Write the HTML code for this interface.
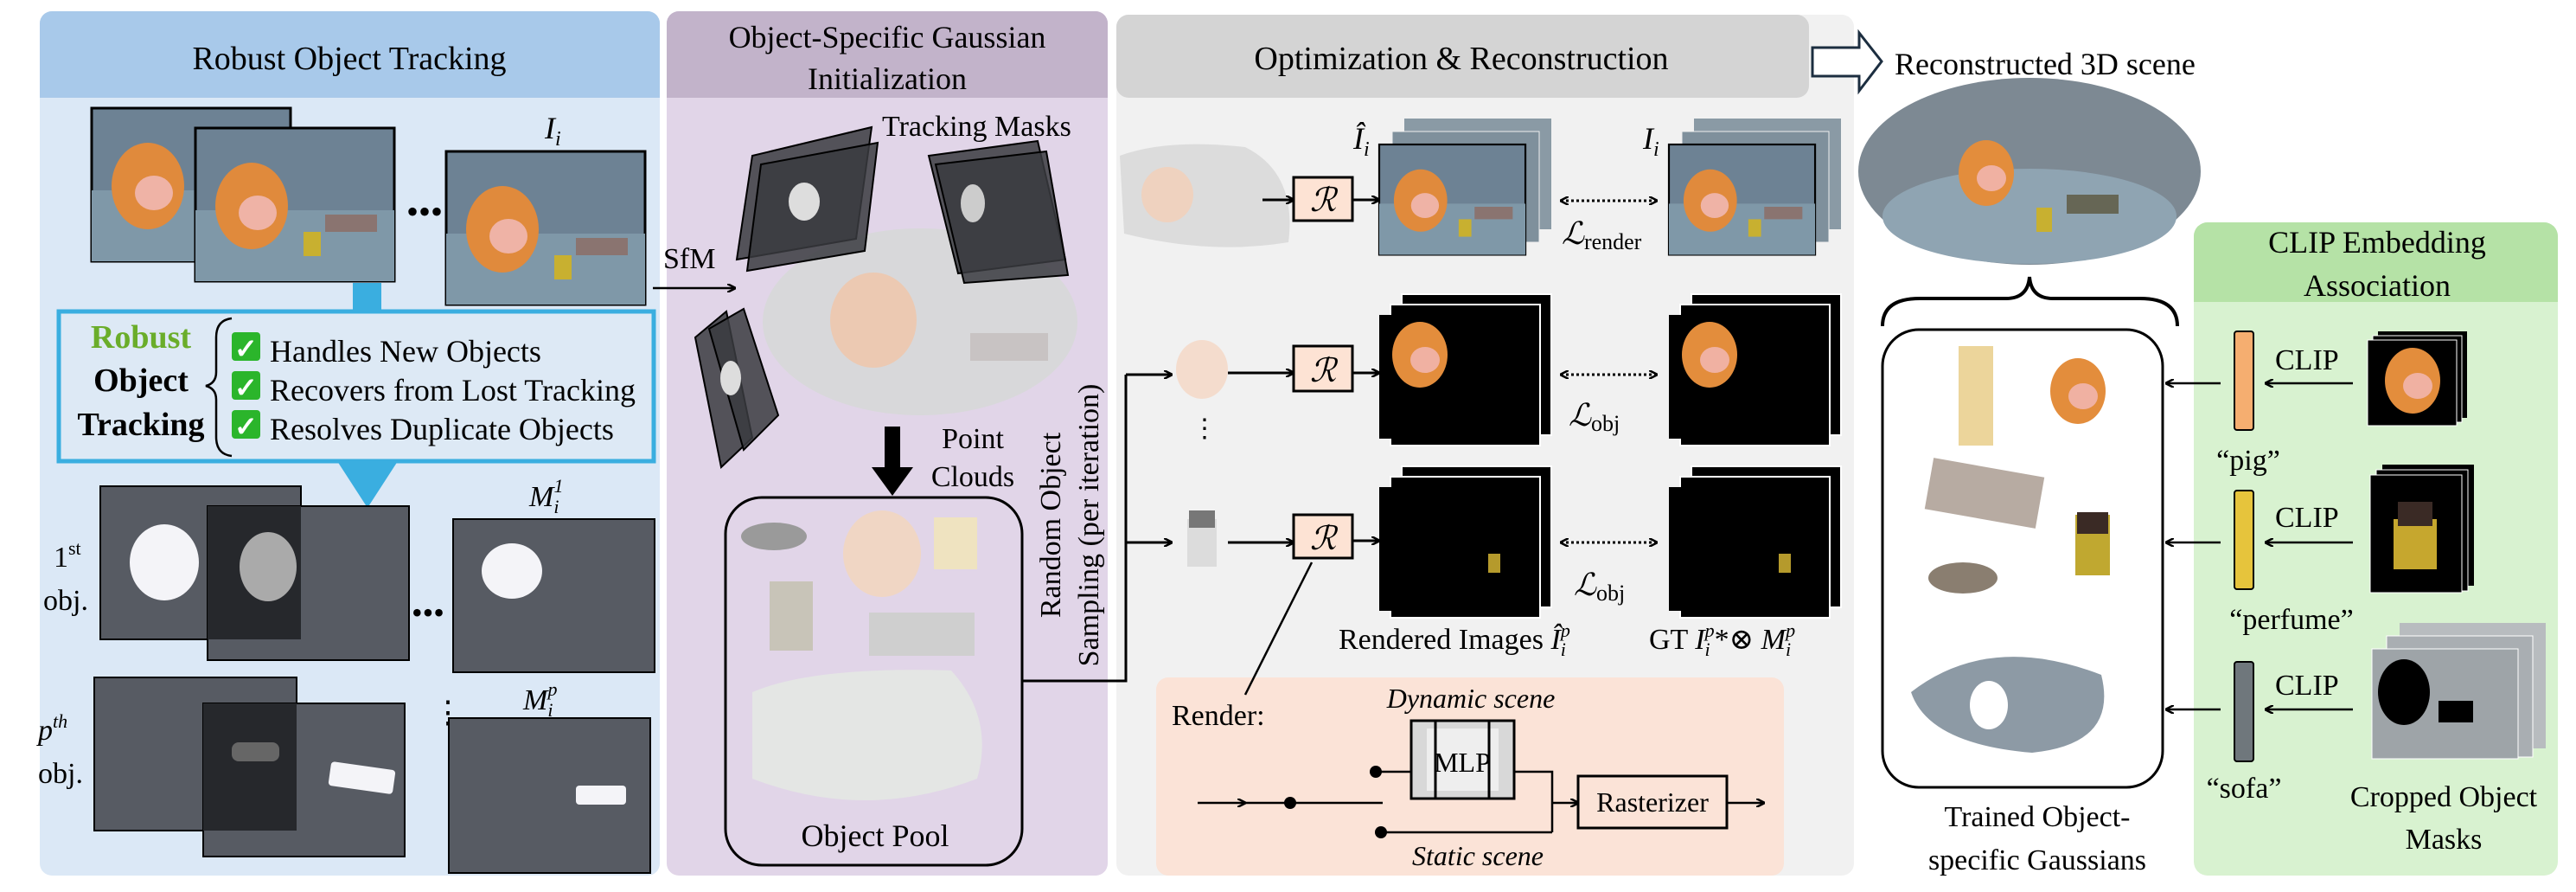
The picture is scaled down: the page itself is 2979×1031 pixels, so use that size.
<!DOCTYPE html>
<html><head><meta charset="utf-8"><style>
html,body{margin:0;padding:0;background:#fff;}
svg{display:block;font-family:"Liberation Serif","DejaVu Serif",serif;}
svg text{font-family:"Liberation Serif","DejaVu Serif",serif;fill:#000;}
</style></head><body>
<svg width="2979" height="1031" viewBox="0 0 2979 1031" xmlns="http://www.w3.org/2000/svg" font-family="Liberation Serif, DejaVu Serif, serif">
<defs>
<marker id="ah" markerWidth="10" markerHeight="10" refX="9" refY="5" orient="auto" markerUnits="userSpaceOnUse"><path d="M0,0 L10,5 L0,10" fill="none" stroke="#000" stroke-width="2.5"/></marker>
<marker id="ahs" markerWidth="10" markerHeight="10" refX="1" refY="5" orient="auto" markerUnits="userSpaceOnUse"><path d="M10,0 L0,5 L10,10" fill="none" stroke="#000" stroke-width="2.5"/></marker>
<g id="photo"><rect width="230" height="177" fill="#6d8294" stroke="#000" stroke-width="3"/><rect y="95" width="230" height="82" fill="#7f98a8"/><ellipse cx="65" cy="90" rx="42" ry="50" fill="#e08a3c"/><ellipse cx="72" cy="98" rx="22" ry="20" fill="#efb3a6"/><rect x="150" y="100" width="60" height="20" fill="#8a7470"/><rect x="125" y="120" width="20" height="28" fill="#c8b030"/></g>
<g id="pig"><ellipse cx="0" cy="0" rx="32" ry="38" fill="#e38d3c"/><ellipse cx="6" cy="6" rx="17" ry="15" fill="#f0b1a2"/></g>
</defs>

<!-- Blue panel -->
<rect x="46" y="13" width="717" height="999" rx="14" fill="#dbe8f6"/>
<path d="M46,113 V27 a14,14 0 0 1 14,-14 H749 a14,14 0 0 1 14,14 V113 Z" fill="#a8c9ea"/>
<text x="404" y="80" font-size="38" text-anchor="middle">Robust Object Tracking</text>
<use href="#photo" x="106" y="125"/>
<g transform="translate(226,148)"><use href="#photo"/></g>
<text x="470" y="258" font-size="40">•••</text>
<g transform="translate(516,175)"><use href="#photo"/></g>
<text x="630" y="160" font-size="36" font-style="italic">I<tspan font-size="24" dy="8">i</tspan></text>
<rect x="408" y="327" width="33" height="33" fill="#3aaee0"/>
<rect x="68" y="360" width="688" height="173" fill="#dde9f5" stroke="#3aaee0" stroke-width="5"/>
<text x="163" y="402" font-size="38" font-weight="bold" text-anchor="middle" style="fill:#6aad2a">Robust</text>
<text x="163" y="452" font-size="38" font-weight="bold" text-anchor="middle">Object</text>
<text x="163" y="503" font-size="38" font-weight="bold" text-anchor="middle">Tracking</text>
<path d="M268,368 Q250,370 250,390 V430 Q250,443 238,446 Q250,449 250,462 V505 Q250,525 268,527" fill="none" stroke="#000" stroke-width="2.5"/>
<g font-size="36">
<rect x="268" y="384" width="33" height="33" rx="4" fill="#2bb52b"/><text x="271" y="414" font-size="32" style="fill:#fff" font-weight="bold">✓</text>
<text x="312" y="418">Handles New Objects</text>
<rect x="268" y="429" width="33" height="33" rx="4" fill="#2bb52b"/><text x="271" y="459" font-size="32" style="fill:#fff" font-weight="bold">✓</text>
<text x="312" y="463">Recovers from Lost Tracking</text>
<rect x="268" y="474" width="33" height="33" rx="4" fill="#2bb52b"/><text x="271" y="504" font-size="32" style="fill:#fff" font-weight="bold">✓</text>
<text x="312" y="508">Resolves Duplicate Objects</text>
</g>
<polygon points="390,533 460,533 425,587" fill="#3aaee0"/>
<!-- masks row 1 -->
<rect x="116" y="562" width="232" height="177" fill="#575b63" stroke="#000" stroke-width="2"/>
<rect x="240" y="585" width="233" height="178" fill="#575b63" stroke="#000" stroke-width="2"/>
<rect x="240" y="585" width="108" height="154" fill="#26282c"/>
<ellipse cx="190" cy="650" rx="40" ry="44" fill="#f4f4f8"/>
<ellipse cx="310" cy="655" rx="33" ry="40" fill="#aaa"/>
<text x="476" y="720" font-size="36">•••</text>
<rect x="524" y="600" width="233" height="177" fill="#575b63" stroke="#000" stroke-width="2"/>
<ellipse cx="592" cy="660" rx="35" ry="32" fill="#f4f4f8"/>
<text x="612" y="585" font-size="34" font-style="italic">M<tspan font-size="22" dy="8">i</tspan><tspan font-size="22" dy="-24" dx="-6">1</tspan></text>
<text x="62" y="655" font-size="34">1<tspan font-size="22" dy="-14">st</tspan></text>
<text x="50" y="705" font-size="34">obj.</text>
<!-- masks row p -->
<rect x="109" y="783" width="234" height="177" fill="#575b63" stroke="#000" stroke-width="2"/>
<rect x="235" y="813" width="233" height="177" fill="#575b63" stroke="#000" stroke-width="2"/>
<rect x="235" y="813" width="108" height="147" fill="#26282c"/>
<rect x="268" y="858" width="55" height="22" rx="8" fill="#666"/>
<rect x="381" y="885" width="75" height="28" rx="4" fill="#f4f4f8" transform="rotate(8 418 899)"/>
<text x="500" y="835" font-size="36">⋮</text>
<rect x="519" y="830" width="233" height="179" fill="#575b63" stroke="#000" stroke-width="2"/>
<rect x="666" y="908" width="58" height="22" rx="4" fill="#f4f4f8"/>
<text x="605" y="820" font-size="34" font-style="italic">M<tspan font-size="22" dy="8">i</tspan><tspan font-size="22" dy="-24" dx="-6">p</tspan></text>
<text x="44" y="855" font-size="34" font-style="italic">p<tspan font-size="22" dy="-14">th</tspan></text>
<text x="44" y="905" font-size="34">obj.</text>

<!-- Purple panel -->
<rect x="771" y="13" width="510" height="999" rx="14" fill="#e1d5e8"/>
<path d="M771,113 V27 a14,14 0 0 1 14,-14 H1267 a14,14 0 0 1 14,14 V113 Z" fill="#c2b3ca"/>
<text x="1026" y="55" font-size="36" text-anchor="middle">Object-Specific Gaussian</text>
<text x="1026" y="103" font-size="36" text-anchor="middle">Initialization</text>
<text x="1020" y="157" font-size="34">Tracking Masks</text>
<text x="767" y="310" font-size="34">SfM</text>
<line x1="755" y1="333" x2="850" y2="333" stroke="#000" stroke-width="2.5" marker-end="url(#ah)"/>
<ellipse cx="1064" cy="372" rx="182" ry="108" fill="#d8d8da"/>
<ellipse cx="1010" cy="370" rx="50" ry="55" fill="#ecc9b2"/>
<rect x="1122" y="385" width="90" height="32" fill="#c8c3c3"/>
<g fill="#3a3b40" fill-opacity="0.85" stroke="#000" stroke-width="2">
<polygon points="870,180 1008,147 990,276 852,300"/><polygon points="880,190 1015,165 1000,290 864,313"/>
<polygon points="1074,180 1200,163 1232,300 1108,316"/><polygon points="1082,190 1210,175 1235,318 1115,327"/>
<polygon points="804,390 840,360 870,506 834,540"/><polygon points="820,380 860,357 900,480 860,520"/>
</g>
<ellipse cx="930" cy="233" rx="18" ry="22" fill="#ddd"/>
<ellipse cx="1125" cy="235" rx="14" ry="22" fill="#ccc"/>
<ellipse cx="845" cy="437" rx="12" ry="20" fill="#ddd"/>
<rect x="1023" y="493" width="18" height="50" fill="#000"/><polygon points="1008,540 1056,540 1032,573" fill="#000"/>
<text x="1125" y="518" font-size="34" text-anchor="middle">Point</text>
<text x="1125" y="562" font-size="34" text-anchor="middle">Clouds</text>
<rect x="839" y="575" width="343" height="425" rx="42" fill="none" stroke="#000" stroke-width="3"/>
<ellipse cx="895" cy="620" rx="38" ry="16" fill="#9a9a9a"/>
<ellipse cx="1020" cy="640" rx="45" ry="50" fill="#f0d6c4"/>
<rect x="1080" y="598" width="50" height="60" fill="#efe3c0"/>
<rect x="890" y="672" width="50" height="80" fill="#c8c4b8"/>
<rect x="1005" y="708" width="122" height="50" fill="#cfcfcf"/>
<path d="M870,800 Q940,770 1100,775 Q1150,830 1130,900 Q1000,950 870,900 Z" fill="#e4e6e4"/>
<text x="1012" y="978" font-size="36" text-anchor="middle">Object Pool</text>
<text transform="translate(1226,607) rotate(-90)" font-size="34" text-anchor="middle">Random Object</text>
<text transform="translate(1270,607) rotate(-90)" font-size="34" text-anchor="middle">Sampling (per iteration)</text>

<!-- Gray panel -->
<rect x="1291" y="17" width="853" height="995" rx="14" fill="#f1f1f1"/>
<rect x="1291" y="17" width="801" height="96" rx="14" fill="#d4d4d4"/>
<text x="1690" y="80" font-size="38" text-anchor="middle">Optimization &amp; Reconstruction</text>
<polyline points="1182,787 1302,787 1302,433" fill="none" stroke="#000" stroke-width="3"/>
<line x1="1302" y1="433" x2="1355" y2="433" stroke="#000" stroke-width="3" marker-end="url(#ah)"/>
<line x1="1302" y1="627" x2="1355" y2="627" stroke="#000" stroke-width="3" marker-end="url(#ah)"/>
<!-- row 1 -->
<path d="M1295,180 Q1350,160 1440,170 Q1500,200 1490,280 Q1400,295 1300,270 Z" fill="#dcdcdc"/>
<ellipse cx="1350" cy="225" rx="30" ry="32" fill="#efd2bf"/>
<line x1="1460" y1="231" x2="1496" y2="231" stroke="#000" stroke-width="3" marker-end="url(#ah)"/>
<rect x="1496" y="205" width="68" height="50" fill="#fde3d4" stroke="#000" stroke-width="3"/><text x="1530" y="244" font-size="38" font-style="italic" text-anchor="middle">ℛ</text>
<line x1="1564" y1="231" x2="1595" y2="231" stroke="#000" stroke-width="3" marker-end="url(#ah)"/>
<g id="stk1">
<rect x="1624" y="137" width="170" height="128" fill="#8a9aa5"/>
<rect x="1610" y="152" width="170" height="128" fill="#7f909c" stroke="#eee" stroke-width="1"/>
<g transform="translate(1595,167) scale(0.735,0.72)"><use href="#photo"/></g>
</g>
<g transform="translate(335,0)"><use href="#stk1"/></g>
<text x="1565" y="172" font-size="36" font-style="italic">Î<tspan font-size="24" dy="8">i</tspan></text>
<text x="1900" y="172" font-size="36" font-style="italic">I<tspan font-size="24" dy="8">i</tspan></text>
<line x1="1805" y1="232" x2="1916" y2="232" stroke="#000" stroke-width="3" stroke-dasharray="3,3" marker-end="url(#ah)" marker-start="url(#ahs)"/>
<text x="1806" y="282" font-size="36" font-style="italic">ℒ<tspan font-style="normal" font-size="26" dy="6">render</tspan></text>
<!-- row 2 -->
<ellipse cx="1390" cy="427" rx="30" ry="34" fill="#f4dccd"/>
<line x1="1420" y1="431" x2="1496" y2="431" stroke="#000" stroke-width="3" marker-end="url(#ah)"/>
<rect x="1496" y="400" width="68" height="52" fill="#fde3d4" stroke="#000" stroke-width="3"/><text x="1530" y="441" font-size="38" font-style="italic" text-anchor="middle">ℛ</text>
<line x1="1564" y1="431" x2="1595" y2="431" stroke="#000" stroke-width="3" marker-end="url(#ah)"/>
<g id="blk">
<rect x="1621" y="340" width="173" height="163" fill="#000" stroke="#fff" stroke-width="2"/>
<rect x="1608" y="352" width="173" height="163" fill="#000" stroke="#fff" stroke-width="2"/>
<rect x="1595" y="364" width="173" height="143" fill="#000"/>
</g>
<g transform="translate(335,0)"><use href="#blk"/></g>
<use href="#pig" x="1642" y="410"/><use href="#pig" x="1977" y="410"/>
<line x1="1805" y1="433" x2="1916" y2="433" stroke="#000" stroke-width="3" stroke-dasharray="3,3" marker-end="url(#ah)" marker-start="url(#ahs)"/>
<text x="1814" y="492" font-size="36" font-style="italic">ℒ<tspan font-style="normal" font-size="26" dy="6">obj</tspan></text>
<text x="1393" y="505" font-size="30" text-anchor="middle">⋮</text>
<!-- row 3 -->
<rect x="1373" y="600" width="34" height="55" fill="#dcdcdc"/><rect x="1375" y="590" width="30" height="20" fill="#777"/>
<line x1="1420" y1="627" x2="1496" y2="627" stroke="#000" stroke-width="3" marker-end="url(#ah)"/>
<rect x="1496" y="595" width="68" height="50" fill="#fde3d4" stroke="#000" stroke-width="3"/><text x="1530" y="635" font-size="38" font-style="italic" text-anchor="middle">ℛ</text>
<line x1="1564" y1="625" x2="1595" y2="625" stroke="#000" stroke-width="3" marker-end="url(#ah)"/>
<g transform="translate(0,199)"><use href="#blk"/></g>
<g transform="translate(335,199)"><use href="#blk"/></g>
<rect x="1721" y="640" width="14" height="22" fill="#b59a2c"/><rect x="2057" y="640" width="14" height="22" fill="#b59a2c"/>
<line x1="1805" y1="627" x2="1916" y2="627" stroke="#000" stroke-width="3" stroke-dasharray="3,3" marker-end="url(#ah)" marker-start="url(#ahs)"/>
<text x="1820" y="688" font-size="36" font-style="italic">ℒ<tspan font-style="normal" font-size="26" dy="6">obj</tspan></text>
<text x="1548" y="750" font-size="34">Rendered Images <tspan font-style="italic">Î</tspan><tspan font-style="italic" font-size="22" dy="8">i</tspan><tspan font-style="italic" font-size="22" dy="-22" dx="-6">p</tspan></text>
<text x="1907" y="750" font-size="34">GT  <tspan font-style="italic">I</tspan><tspan font-style="italic" font-size="22" dy="8">i</tspan><tspan font-style="italic" font-size="22" dy="-22" dx="-6">p</tspan><tspan dy="14">*⊗ </tspan><tspan font-style="italic">M</tspan><tspan font-style="italic" font-size="22" dy="8">i</tspan><tspan font-style="italic" font-size="22" dy="-22" dx="-6">p</tspan></text>
<!-- Render box -->
<rect x="1337" y="783" width="726" height="229" rx="14" fill="#fbe3d7"/>
<line x1="1517" y1="650" x2="1440" y2="803" stroke="#000" stroke-width="2.5"/>
<text x="1355" y="838" font-size="34">Render:</text>
<text x="1701" y="818" font-size="32" font-style="italic" text-anchor="middle">Dynamic scene</text>
<text x="1709" y="1000" font-size="32" font-style="italic" text-anchor="middle">Static scene</text>
<rect x="1632" y="833" width="119" height="90" fill="#d8d8d8" stroke="#000" stroke-width="3"/>
<rect x="1650" y="842" width="83" height="72" fill="#eee"/>
<line x1="1660" y1="833" x2="1660" y2="923" stroke="#000" stroke-width="3"/>
<line x1="1722" y1="833" x2="1722" y2="923" stroke="#000" stroke-width="3"/>
<text x="1691" y="892" font-size="32" text-anchor="middle">MLP</text>
<rect x="1825" y="897" width="172" height="60" fill="#fbe3d7" stroke="#000" stroke-width="3"/>
<text x="1911" y="938" font-size="32" text-anchor="middle">Rasterizer</text>
<line x1="1385" y1="928" x2="1440" y2="928" stroke="#000" stroke-width="2.5" marker-end="url(#ah)"/>
<line x1="1440" y1="928" x2="1599" y2="928" stroke="#000" stroke-width="2.5"/>
<circle cx="1492" cy="928" r="7" fill="#000"/>
<circle cx="1591" cy="892" r="7" fill="#000"/><line x1="1591" y1="892" x2="1632" y2="892" stroke="#000" stroke-width="2.5"/>
<circle cx="1597" cy="962" r="7" fill="#000"/><line x1="1597" y1="962" x2="1795" y2="962" stroke="#000" stroke-width="2.5"/>
<polyline points="1751,892 1795,892 1795,962" fill="none" stroke="#000" stroke-width="2.5"/>
<line x1="1795" y1="928" x2="1825" y2="928" stroke="#000" stroke-width="2.5" marker-end="url(#ah)"/>
<line x1="1997" y1="928" x2="2040" y2="928" stroke="#000" stroke-width="2.5" marker-end="url(#ah)"/>

<!-- right -->
<polygon points="2096,55 2150,55 2150,38 2176,71 2150,105 2150,88 2096,88" fill="#fff" stroke="#1c2e40" stroke-width="3"/>
<text x="2191" y="86" font-size="36">Reconstructed 3D scene</text>
<ellipse cx="2347" cy="198" rx="198" ry="108" fill="#7d8993"/>
<ellipse cx="2347" cy="250" rx="170" ry="55" fill="#8fa4b2"/>
<use href="#pig" x="2297" y="200"/>
<rect x="2390" y="225" width="60" height="22" fill="#665"/><rect x="2355" y="240" width="18" height="28" fill="#c8b030"/>
<path d="M2177,377 Q2177,345 2220,345 H2320 Q2345,345 2347,320 Q2349,345 2374,345 H2475 Q2518,345 2518,377" fill="none" stroke="#000" stroke-width="4"/>
<rect x="2177" y="381" width="324" height="529" rx="42" fill="#fff" stroke="#000" stroke-width="3"/>
<rect x="2265" y="400" width="40" height="115" fill="#ecd59b"/>
<use href="#pig" x="2403" y="452"/>
<rect x="2230" y="540" width="130" height="60" fill="#b7aba2" transform="rotate(10 2295 570)"/>
<rect x="2400" y="595" width="40" height="70" fill="#c0a830"/><rect x="2402" y="592" width="36" height="25" fill="#3a2a25"/>
<ellipse cx="2270" cy="668" rx="40" ry="18" fill="#8a7e70"/>
<path d="M2210,800 Q2300,730 2430,780 Q2450,860 2350,870 Q2230,860 2210,800 Z" fill="#8d9aa5"/>
<ellipse cx="2300" cy="815" rx="22" ry="28" fill="#fff"/>
<text x="2356" y="955" font-size="34" text-anchor="middle">Trained Object-</text>
<text x="2356" y="1005" font-size="34" text-anchor="middle">specific Gaussians</text>
<!-- green -->
<rect x="2537" y="257" width="421" height="755" rx="16" fill="#d8f2d0"/>
<path d="M2537,349 V273 a16,16 0 0 1 16,-16 H2942 a16,16 0 0 1 16,16 V349 Z" fill="#b5e2a6"/>
<text x="2749" y="292" font-size="36" text-anchor="middle">CLIP Embedding</text>
<text x="2749" y="342" font-size="36" text-anchor="middle">Association</text>
<rect x="2584" y="383" width="22" height="114" rx="3" fill="#f5ae70" stroke="#000" stroke-width="2"/>
<rect x="2584" y="567" width="22" height="114" rx="3" fill="#e6c43c" stroke="#000" stroke-width="2"/>
<rect x="2584" y="765" width="22" height="115" rx="3" fill="#6f777c" stroke="#000" stroke-width="2"/>
<g font-size="34">
<text x="2631" y="427">CLIP</text><text x="2631" y="609">CLIP</text><text x="2631" y="803">CLIP</text>
<text x="2600" y="543" text-anchor="middle">“pig”</text>
<text x="2650" y="727" text-anchor="middle">“perfume”</text>
<text x="2595" y="922" text-anchor="middle">“sofa”</text>
<text x="2826" y="932" text-anchor="middle">Cropped Object</text>
<text x="2826" y="981" text-anchor="middle">Masks</text>
</g>
<g stroke="#000" stroke-width="2.5">
<line x1="2721" y1="443" x2="2620" y2="443" marker-end="url(#ah)"/>
<line x1="2721" y1="627" x2="2620" y2="627" marker-end="url(#ah)"/>
<line x1="2721" y1="820" x2="2620" y2="820" marker-end="url(#ah)"/>
<line x1="2568" y1="443" x2="2505" y2="443" marker-end="url(#ah)"/>
<line x1="2568" y1="627" x2="2505" y2="627" marker-end="url(#ah)"/>
<line x1="2568" y1="820" x2="2505" y2="820" marker-end="url(#ah)"/>
</g>
<rect x="2750" y="383" width="103" height="100" fill="#000"/><rect x="2744" y="388" width="103" height="100" fill="#000" stroke="#fff"/><rect x="2738" y="393" width="103" height="99" fill="#000" stroke="#fff"/>
<use href="#pig" x="2790" y="440"/>
<rect x="2755" y="537" width="106" height="140" fill="#000"/><rect x="2748" y="543" width="106" height="140" fill="#000" stroke="#fff"/><rect x="2741" y="549" width="106" height="136" fill="#000" stroke="#fff"/>
<rect x="2768" y="600" width="50" height="58" fill="#c6a72e"/><rect x="2773" y="580" width="40" height="28" fill="#3a2a25"/>
<rect x="2775" y="720" width="169" height="145" fill="#b8bcbf"/><rect x="2760" y="735" width="169" height="140" fill="#a9aeb2" stroke="#fff"/><rect x="2743" y="750" width="169" height="127" fill="#9ea4a8" stroke="#fff"/>
<ellipse cx="2780" cy="800" rx="30" ry="38" fill="#000"/><rect x="2820" y="810" width="40" height="25" fill="#000"/>
</svg>
</body></html>
